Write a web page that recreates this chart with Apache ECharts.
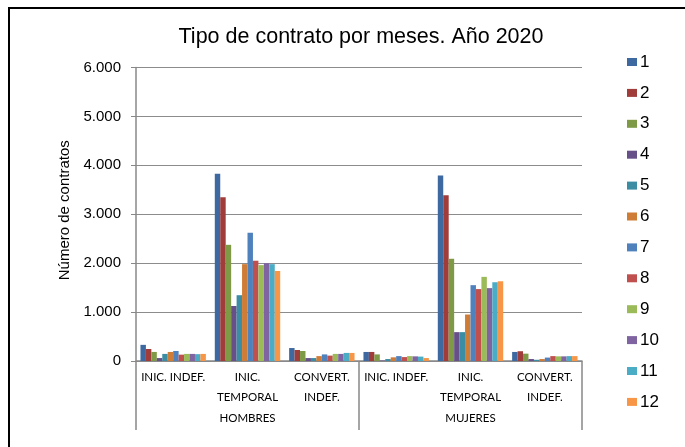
<!DOCTYPE html>
<html><head><meta charset="utf-8">
<script src="https://cdn.jsdelivr.net/npm/echarts@6/dist/echarts.min.js"></script>
<style>html,body{margin:0;padding:0;background:#fff}#c{width:685px;height:447px}</style>
</head><body><div id="c"></div>
<script>
const categories = ['INIC. INDEF.', 'INIC.\nTEMPORAL', 'CONVERT.\nINDEF.', 'INIC. INDEF.', 'INIC.\nTEMPORAL', 'CONVERT.\nINDEF.'];
const groups = ['HOMBRES', 'MUJERES'];
const months = ['1','2','3','4','5','6','7','8','9','10','11','12'];
const yTicks = [0, 1000, 2000, 3000, 4000, 5000, 6000];
// values per month, in category order
const m1  = [330, 3830, 265, 185, 3790, 185];
const m2  = [245, 3350, 225, 185, 3390, 200];
const m3  = [185, 2375, 205, 135, 2090, 150];
const m4  = [60, 1125, 60, 10, 590, 40];
const m5  = [145, 1345, 60, 40, 590, 25];
const m6  = [185, 1980, 100, 75, 950, 40];
const m7  = [205, 2620, 135, 100, 1550, 70];
const m8  = [130, 2050, 110, 80, 1470, 100];
const m9  = [145, 1960, 145, 100, 1720, 95];
const m10 = [145, 2000, 145, 95, 1490, 95];
const m11 = [140, 1980, 165, 90, 1610, 100];
const m12 = [145, 1840, 165, 60, 1630, 100];
const seriesValues = [m1, m2, m3, m4, m5, m6, m7, m8, m9, m10, m11, m12];
const colors = ['#3D69A0', '#A03D3A', '#7E9A46', '#674F88', '#3A8DA3', '#CF7C36',
                '#4F81BD', '#C0504D', '#9BBB59', '#8064A2', '#4BACC6', '#F79646'];

const chart = echarts.init(document.getElementById('c'));
const fmt = v => String(v).replace(/\B(?=(\d{3})+(?!\d))/g, '.');
const ff = '"Liberation Sans", Arial, sans-serif';
const cf = 'Lato, Carlito, sans-serif';
chart.setOption({
  animation: false,
  color: colors,
  textStyle: { fontFamily: ff },
  title: {
    text: 'Tipo de contrato por meses. Año 2020',
    left: 356, top: 21, textAlign: 'center',
    textStyle: { fontSize: 21.5, fontWeight: 'normal', color: '#000', fontFamily: ff }
  },
  graphic: [{
    type: 'rect', shape: { x: 9, y: 8, width: 720, height: 480 },
    style: { fill: 'none', stroke: '#000', lineWidth: 2 }, silent: true
  }],
  legend: {
    orient: 'vertical', left: 622, top: 48,
    itemWidth: 10, itemHeight: 8, itemGap: 12.9,
    icon: 'rect',
    data: months,
    textStyle: { fontSize: 17, color: '#000', lineHeight: 18, padding: [0, 0, 0, -2], fontFamily: ff }
  },
  grid: { left: 136, right: 103, top: 67.5, bottom: 86, containLabel: false },
  xAxis: [{
    type: 'category', data: categories, position: 'bottom',
    axisLine: { lineStyle: { color: '#888', width: 1.5 } },
    axisTick: { show: false },
    axisLabel: { interval: 0, margin: 6, fontSize: 11.5, color: '#000', lineHeight: 20, fontFamily: cf }
  }, {
    type: 'category', data: groups, position: 'bottom', offset: 0,
    axisLine: { show: false },
    axisTick: { show: true, length: 69, interval: 0, lineStyle: { color: '#888', width: 1.5 } },
    axisLabel: { margin: 51, fontSize: 11.5, color: '#000', fontFamily: cf }
  }],
  yAxis: {
    type: 'value', min: yTicks[0], max: yTicks[yTicks.length - 1], interval: 1000,
    name: 'Número de contratos', nameLocation: 'middle', nameGap: 59, nameRotate: 90,
    nameTextStyle: { fontSize: 15, color: '#000', fontFamily: ff, padding: [0, 0, 0, 8] },
    axisLine: { show: true, lineStyle: { color: '#888', width: 1.5 } },
    axisTick: { show: true, length: 5, lineStyle: { color: '#888' } },
    splitLine: { lineStyle: { color: '#8c8c8c', width: 1 } },
    axisLabel: { margin: 15, fontSize: 15, color: '#000', formatter: fmt, fontFamily: ff }
  },
  series: seriesValues.map((vals, i) => ({
    name: months[i], type: 'bar', xAxisIndex: 0, data: vals,
    barGap: '0%', barCategoryGap: '12%'
  }))
});
</script></body></html>
